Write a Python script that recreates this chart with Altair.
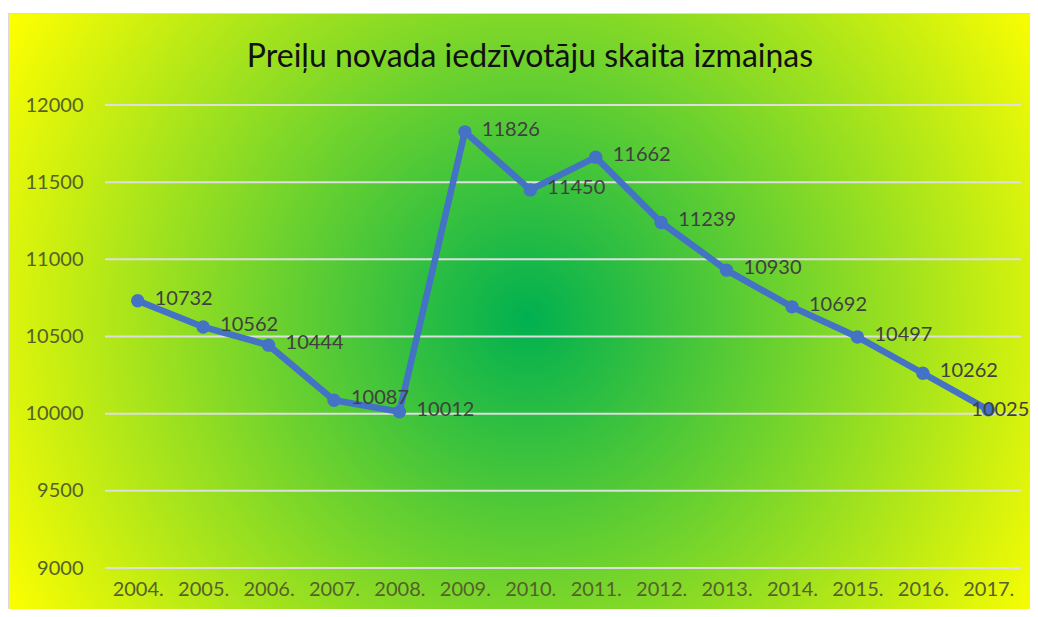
import altair as alt
import pandas as pd

years = ["2004.", "2005.", "2006.", "2007.", "2008.", "2009.", "2010.",
         "2011.", "2012.", "2013.", "2014.", "2015.", "2016.", "2017."]
population = [10732, 10562, 10444, 10087, 10012, 11826, 11450,
              11662, 11239, 10930, 10692, 10497, 10262, 10025]
y_ticks = [9000, 9500, 10000, 10500, 11000, 11500, 12000]
title_text = "Preiļu novada iedzīvotāju skaita izmaiņas"

df = pd.DataFrame({"year": years, "value": population})
grid_df = pd.DataFrame({"tick": y_ticks})

W, H = 916, 463
FONT = "Lato"

x_enc = alt.X("year:N", sort=None,
              scale=alt.Scale(type="point", padding=0.5),
              axis=alt.Axis(title=None, labelAngle=0, labelFont=FONT, labelFontSize=20,
                            labelColor="#56602a", labelPadding=11, domain=False,
                            ticks=False, grid=False, zindex=1))
y_scale = alt.Scale(domain=[9000, 12000], nice=False, zero=False)
y_enc = alt.Y("value:Q", scale=y_scale,
              axis=alt.Axis(title=None, values=y_ticks, format="d", labelFont=FONT,
                            labelFontSize=20, labelColor="#56602a", labelPadding=22,
                            domain=False, ticks=False, grid=False, zindex=1))

gradient = {
    "gradient": "radial",
    "x1": 0.506, "y1": 0.504, "r1": 0,
    "x2": 0.506, "y2": 0.504, "r2": 0.5845,
    "stops": [
        {"offset": 0, "color": "#00B050"},
        {"offset": 1, "color": "#FFFF00"},
    ],
}

bg = alt.Chart(alt.Data(values=[{}])).mark_rect(
    fill=gradient, stroke="#d9d9d9", strokeWidth=1
).encode(
    x=alt.value(-96.5), x2=alt.value(930),
    y=alt.value(-91.5), y2=alt.value(510)
)

grid = alt.Chart(grid_df).mark_rule(color="#dedede", strokeWidth=2).encode(
    y=alt.Y("tick:Q", scale=y_scale)
)

base = alt.Chart(df).encode(x=x_enc, y=y_enc)

line = base.mark_line(color="#4472C4", strokeWidth=6.5)
points = base.mark_circle(color="#4472C4", size=180, opacity=1)

labels = base.transform_filter(alt.datum.year != "2017.").mark_text(
    align="left", baseline="middle", dx=17, dy=-2, font=FONT, fontSize=20, color="#404040"
).encode(text="value:Q")

last_label = base.transform_filter(alt.datum.year == "2017.").mark_text(
    align="left", baseline="middle", dx=-17, dy=0, font=FONT, fontSize=20, color="#404040"
).encode(text="value:Q")

chart = alt.layer(bg, grid, line, points, labels, last_label).properties(
    width=W, height=H,
    title=alt.TitleParams(title_text, font=FONT, fontSize=32, fontWeight="normal",
                          color="#111111", anchor="middle", frame="group",
                          baseline="alphabetic", dx=-33, offset=-86, zindex=1),
    autosize=alt.AutoSizeParams(type="none"),
    padding={"left": 97, "top": 97, "right": 9, "bottom": 41},
).configure_view(stroke=None).configure(background="white")

chart.save("out.html", embed_options={"renderer": "svg", "actions": False})
